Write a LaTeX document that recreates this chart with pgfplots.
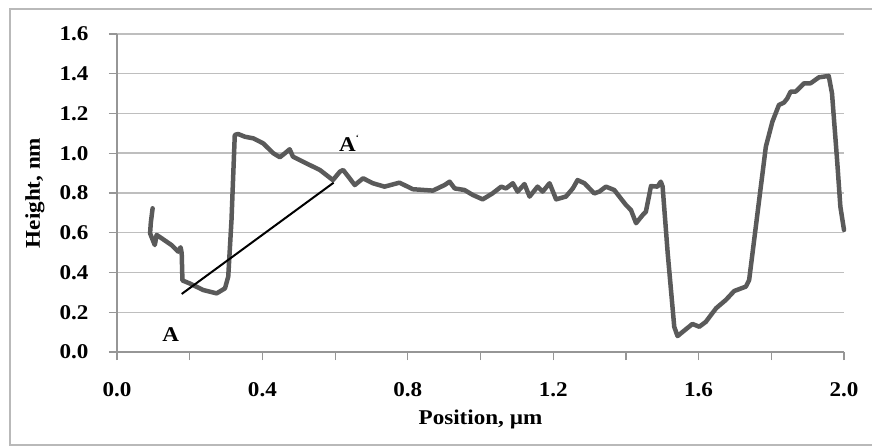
\documentclass[border=0pt]{standalone}
\usepackage{fontspec}
\setmainfont{Liberation Serif}[FakeStretch=1.1]
\usepackage{pgfplots}
\pgfplotsset{compat=1.18}
\definecolor{curvegray}{RGB}{90,90,90}
\definecolor{gridgray}{RGB}{190,190,190}
\definecolor{axisgray}{RGB}{150,150,150}
\definecolor{framegray}{RGB}{185,185,185}
\begin{document}
\begin{tikzpicture}[x=1pt,y=1pt]
\useasboundingbox (-117,-95) rectangle (755,352);
\draw[framegray, line width=1.5pt] (-107,-93) rectangle (770,343);
\begin{axis}[
  at={(0,0)}, anchor=south west,
  scale only axis, width=727pt, height=318pt,
  xmin=0, xmax=2.0, ymin=0, ymax=1.6,
  axis lines*=left,
  axis line style={axisgray, line width=1.2pt, -},
  xtick={0,0.4,...,2.01},
  minor xtick={0.2,0.6,...,1.81},
  ytick={0,0.2,...,1.61},
  tick align=outside,
  major tick length=8pt, minor tick length=8pt,
  tick style={axisgray, line width=1.2pt},
  ymajorgrids,
  grid style={gridgray, line width=1.5pt},
  /pgf/number format/assume math mode=true,
  /pgf/number format/fixed, /pgf/number format/fixed zerofill,
  /pgf/number format/precision=1,
  ticklabel style={font=\fontsize{21}{24}\selectfont\bfseries, text=black},
  xticklabel style={yshift=-19pt},
  yticklabel style={xshift=-17pt},
  xlabel={Position, µm},
  ylabel={Height, nm},
  label style={font=\fontsize{21}{24}\selectfont\bfseries, text=black},
  xlabel style={at={(axis description cs:0.5,-0.2107)}, anchor=center},
  ylabel style={at={(axis description cs:-0.1128,0.5)}, anchor=center},
  clip=false,
]
\addplot[curvegray, line width=4.5pt, line join=round, line cap=round] coordinates {
(0.098,0.723)(0.093,0.65)(0.091,0.597)(0.104,0.538)(0.109,0.589)(0.123,0.572)
(0.150,0.538)(0.168,0.505)(0.175,0.527)(0.178,0.497)(0.180,0.36)(0.200,0.345)
(0.237,0.312)(0.274,0.295)(0.297,0.320)(0.306,0.379)(0.315,0.664)(0.324,1.092)
(0.333,1.097)(0.352,1.083)(0.375,1.075)(0.402,1.050)(0.430,1.000)(0.448,0.980)
(0.462,1.000)(0.475,1.020)(0.484,0.983)(0.521,0.949)(0.558,0.916)(0.594,0.865)
(0.613,0.907)(0.622,0.916)(0.640,0.874)(0.654,0.840)(0.677,0.874)(0.704,0.849)
(0.736,0.832)(0.777,0.852)(0.814,0.819)(0.869,0.812)(0.901,0.840)(0.915,0.857)
(0.929,0.823)(0.956,0.815)(0.979,0.790)(1.006,0.768)(1.033,0.798)(1.057,0.832)
(1.070,0.823)(1.089,0.849)(1.102,0.807)(1.121,0.845)(1.135,0.782)(1.157,0.832)
(1.171,0.807)(1.190,0.849)(1.208,0.768)(1.235,0.782)(1.254,0.823)(1.267,0.865)
(1.286,0.849)(1.313,0.798)(1.327,0.807)(1.345,0.832)(1.368,0.815)(1.400,0.740)
(1.414,0.714)(1.428,0.648)(1.446,0.689)(1.455,0.706)(1.469,0.835)(1.487,0.832)
(1.496,0.857)(1.501,0.832)(1.515,0.497)(1.533,0.127)(1.542,0.080)(1.560,0.107)
(1.583,0.141)(1.602,0.127)(1.620,0.152)(1.648,0.220)(1.675,0.262)(1.698,0.307)
(1.730,0.329)(1.739,0.362)(1.762,0.698)(1.785,1.033)(1.803,1.159)(1.821,1.243)
(1.835,1.255)(1.844,1.276)(1.853,1.310)(1.867,1.310)(1.881,1.335)(1.890,1.352)
(1.908,1.352)(1.931,1.382)(1.958,1.389)(1.967,1.301)(1.981,0.966)(1.990,0.731)
(2.000,0.614)
};
\addplot[black, line width=2pt] coordinates {(0.178,0.292)(0.596,0.852)};
\node[font=\fontsize{21}{24}\selectfont\bfseries, text=black] at (axis cs:0.148,0.09) {A};
\node[font=\fontsize{21}{24}\selectfont\bfseries, text=black] at (axis cs:0.638,1.05) {A\raisebox{0.55em}{\fontsize{8}{9}\selectfont`}};
\end{axis}
\end{tikzpicture}
\end{document}
